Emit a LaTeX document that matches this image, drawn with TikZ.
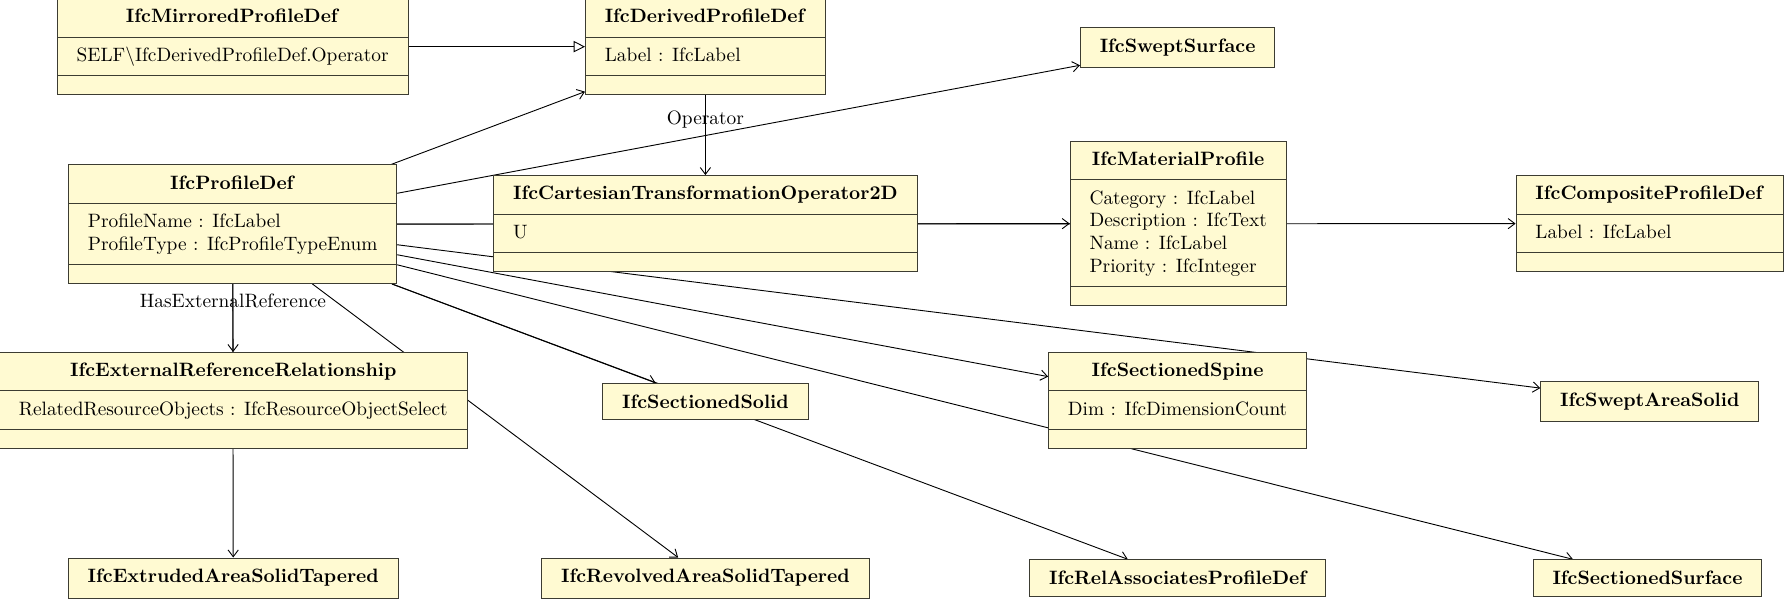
\documentclass[tikz,border=0pt]{standalone}
\usepackage{fontspec}
\setmainfont{lmroman10-regular}[Extension=.otf, BoldFont=lmroman10-bold, ItalicFont=lmroman10-italic]
\usetikzlibrary{shapes.multipart, arrows.meta, backgrounds}
\definecolor{clsfill}{RGB}{255,250,210}
\definecolor{clsdraw}{RGB}{60,60,50}
\newcommand\ttlrow[1]{\rule[-12pt]{0pt}{33pt}\textbf{#1}}
\newcommand\onerow[1]{\rule[-12pt]{0pt}{33pt}#1}
\newcommand\attrrows[1]{\vbox{\baselineskip=20pt\lineskiplimit=-100pt\lineskip=0pt #1}}
\newcommand\firstrow[1]{\hbox{\rule{0pt}{21pt}#1}}
\newcommand\midrow[1]{\hbox{#1}}
\newcommand\lastrow[1]{\hbox{\rule[-12pt]{0pt}{12pt}#1}}
\newcommand\emptyrow{\rule{0pt}{16pt}}
\begin{document}
\begin{tikzpicture}[x=1pt,y=-1pt, font=\fontsize{17}{20.4}\selectfont,
  cls/.style={rectangle split, rectangle split parts=3,
    rectangle split part align={center,left,left},
    draw=clsdraw, fill=clsfill, line width=0.8pt, inner xsep=17pt, inner ysep=0pt},
  box/.style={draw=clsdraw, fill=clsfill, line width=0.8pt, inner xsep=17pt,
    inner ysep=10pt, font=\fontsize{17}{20.4}\selectfont\bfseries},
  rel/.style={line width=0.8pt, -{Straight Barb[length=6pt,width=9pt]}},
  gen/.style={line width=0.8pt, -{Triangle[open,length=10pt,width=10pt]}},
  lbl/.style={font=\fontsize{17}{20.4}\selectfont, inner sep=0pt}]
\useasboundingbox (0,0) rectangle (1568,527.35);

\node[cls] (mir) at (204.5,41) {\ttlrow{IfcMirroredProfileDef}\nodepart{second}\onerow{SELF\textbackslash IfcDerivedProfileDef.Operator}\nodepart{third}\emptyrow};
\node[cls] (der) at (620,41) {\ttlrow{IfcDerivedProfileDef}\nodepart{second}\onerow{Label : IfcLabel}\nodepart{third}\emptyrow};
\node[box] (ssf) at (1035,41.5) {IfcSweptSurface};
\node[cls] (pd) at (204.5,197) {\ttlrow{IfcProfileDef}\nodepart{second}\attrrows{\firstrow{ProfileName : IfcLabel}\lastrow{ProfileType : IfcProfileTypeEnum}}\nodepart{third}\emptyrow};
\node[cls] (cto) at (620,196.5) {\ttlrow{IfcCartesianTransformationOperator2D}\nodepart{second}\onerow{U}\nodepart{third}\emptyrow};
\node[cls] (mat) at (1035.5,196.5) {\ttlrow{IfcMaterialProfile}\nodepart{second}\attrrows{\firstrow{Category : IfcLabel}\midrow{Description : IfcText}\midrow{Name : IfcLabel}\lastrow{Priority : IfcInteger}}\nodepart{third}\emptyrow};
\node[cls] (cpd) at (1450,196.5) {\ttlrow{IfcCompositeProfileDef}\nodepart{second}\onerow{Label : IfcLabel}\nodepart{third}\emptyrow};
\node[cls] (err) at (205,352) {\ttlrow{IfcExternalReferenceRelationship}\nodepart{second}\onerow{RelatedResourceObjects : IfcResourceObjectSelect}\nodepart{third}\emptyrow};
\node[box] (sso) at (620,353) {IfcSectionedSolid};
\node[cls] (ssp) at (1035,352) {\ttlrow{IfcSectionedSpine}\nodepart{second}\onerow{Dim : IfcDimensionCount}\nodepart{third}\emptyrow};
\node[box] (sas) at (1450,353) {IfcSweptAreaSolid};
\node[box] (eas) at (205,508) {IfcExtrudedAreaSolidTapered};
\node[box] (ras) at (620,508) {IfcRevolvedAreaSolidTapered};
\node[box] (rap) at (1035,508) {IfcRelAssociatesProfileDef};
\node[box] (ssu) at (1448,508) {IfcSectionedSurface};

\begin{pgfonlayer}{background}
\draw[gen] (mir) -- (der);
\draw[rel] (pd) -- (der);
\draw[rel] (pd) -- (ssf);
\draw[rel] (pd) -- (mat);
\draw[rel] (pd) -- (cpd);
\draw[rel] (der) -- node[lbl,pos=0.3]{Operator} (cto);
\draw[rel] (pd) -- (sas);
\draw[rel] (pd) -- (ssp);
\draw[rel] (pd) -- (ssu);
\draw[rel] (pd) -- (sso);
\draw[rel] (pd) -- (rap);
\draw[rel] (pd) -- node[lbl,pos=0.25]{HasExternalReference} (err);
\draw[rel] (pd) -- (ras);
\draw[rel] (pd) -- (eas);
\end{pgfonlayer}
\end{tikzpicture}
\end{document}
